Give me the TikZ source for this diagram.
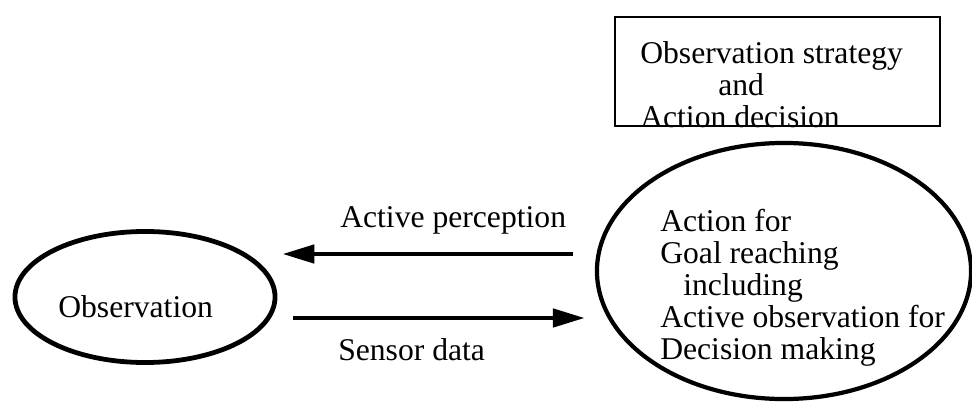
\documentclass[tikz,border=0pt]{standalone}
\usepackage{fontspec}
\setmainfont{Liberation Serif}
\usetikzlibrary{shapes.geometric,arrows.meta}
\begin{document}
\begin{tikzpicture}[x=0.025cm,y=-0.025cm,
		txt/.style={inner sep=0pt,align=left,font=\fontsize{22.5}{22.8}\selectfont},
		ell/.style={draw,ellipse,inner sep=0pt,line width=3.4pt},
		pfeil/.style={line width=3.4pt,-{Triangle[length=0.8cm,width=0.45cm]}}]
	\useasboundingbox (0,0) rectangle (972,401);
	%Kasten oben
	\node[draw,line width=1.6pt,minimum width=8.125cm,minimum height=2.725cm,inner sep=0pt] (strat) at (777.5,71.5) {};
	\node[txt,anchor=north west] (strattxt) at (640,41) {Observation strategy\\\hspace*{1.95cm}and\\Action decision};
	%Ellipsen
	\node[ell,line width=3pt,minimum width=9.35cm,minimum height=6.4cm] (goal) at (784,271) {};
	\node[txt,anchor=north west] (goaltxt) at (660,209) {Action for\\Goal reaching\\\hspace*{0.575cm}including\\Active observation for\\Decision making};
	\node[ell,minimum width=6.5cm,minimum height=3.275cm] (obs) at (145,297) {};
	\node[txt,anchor=base west] (obstxt) at (58,317) {Observation};
	%Pfeile
	\draw[pfeil] ([shift={(-22,-17)}]goal.west) -- ([shift={(5,-43)}]obs.east);
	\draw[pfeil] ([shift={(16,21)}]obs.east) -- ([shift={(-10,47)}]goal.west);
	\node[txt,anchor=base west] (aplbl) at (340,227) {Active perception};
	\node[txt,anchor=base west] (sdlbl) at (338,360) {Sensor data};
\end{tikzpicture}
\end{document}
